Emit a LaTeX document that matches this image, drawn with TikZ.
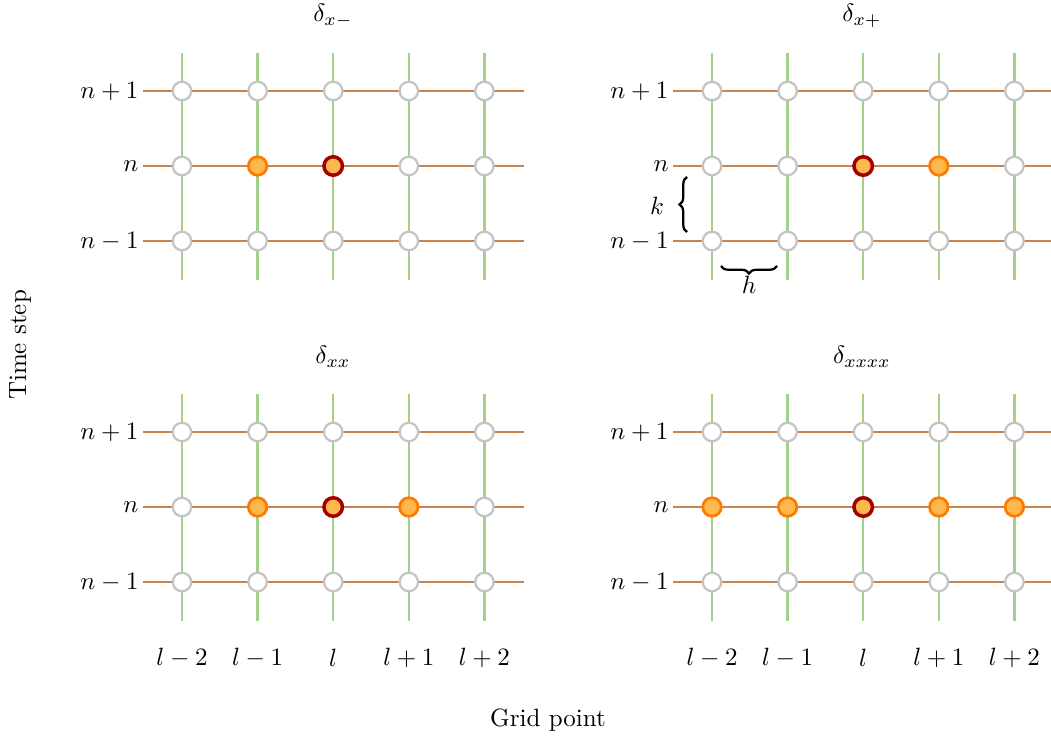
\documentclass[tikz,border=0pt]{standalone}
\usetikzlibrary{decorations.pathreplacing}
\definecolor{hline}{HTML}{C8834F}
\definecolor{vline}{HTML}{A3D18B}
\definecolor{ptgray}{HTML}{C4C4C4}
\definecolor{ofill}{HTML}{FFB84D}
\definecolor{odraw}{HTML}{FF7A00}
\definecolor{cdraw}{HTML}{A50000}
\begin{document}
\begin{tikzpicture}[x=0.4pt,y=-0.4pt,
  hl/.style={draw=hline,line width=1pt},
  vl/.style={draw=vline,line width=1pt},
  pt/.style={circle,draw=ptgray,fill=white,line width=0.9pt,minimum size=7.4pt,inner sep=0pt},
  opt/.style={pt,draw=odraw,fill=ofill,line width=1.1pt},
  cpt/.style={pt,draw=cdraw,fill=ofill,line width=1.4pt},
  lab/.style={inner sep=0pt},
  brc/.style={decorate,decoration={brace,amplitude=3pt},line width=0.9pt}]
\useasboundingbox (0,0) rectangle (1051,738);
% grid lines for each panel
\foreach \p/\ox/\oy in {a/0/0,b/530/0,c/0/341,d/530/341}{
  \foreach \r/\y in {0/91,1/166,2/241}{
    \coordinate (\p L\r) at (\ox+143,\oy+\y);
    \coordinate (\p R\r) at (\ox+524,\oy+\y);
    \draw[hl] (\p L\r) -- (\p R\r);
  }
  \foreach \c in {0,...,4}{
    \coordinate (\p T\c) at (\ox+182+75.6*\c,\oy+53);
    \coordinate (\p B\c) at (\ox+182+75.6*\c,\oy+280);
    \draw[vl] (\p T\c) -- (\p B\c);
  }
  \foreach \r/\y in {0/91,2/241}{
    \foreach \c in {0,...,4}{
      \node[pt] (\p\r\c) at (\ox+182+75.6*\c,\oy+\y) {};
    }
  }
  \node[lab,anchor=east] (\p n0) at (\ox+139,\oy+91) {$n+1$};
  \node[lab,anchor=east] (\p n1) at (\ox+139,\oy+166) {$n$};
  \node[lab,anchor=east] (\p n2) at (\ox+139,\oy+241) {$n-1$};
}
% middle rows
\foreach \c in {0,3,4} \node[pt] (a1\c) at (182+75.6*\c,166) {};
\node[opt] (a11) at (257.6,166) {};
\node[cpt] (a12) at (333.2,166) {};
\foreach \c in {0,1,4} \node[pt] (b1\c) at (712+75.6*\c,166) {};
\node[cpt] (b12) at (863.2,166) {};
\node[opt] (b13) at (938.8,166) {};
\foreach \c in {0,4} \node[pt] (c1\c) at (182+75.6*\c,507) {};
\node[opt] (c11) at (257.6,507) {};
\node[cpt] (c12) at (333.2,507) {};
\node[opt] (c13) at (408.8,507) {};
\node[opt] (d10) at (712,507) {};
\node[opt] (d11) at (787.6,507) {};
\node[cpt] (d12) at (863.2,507) {};
\node[opt] (d13) at (938.8,507) {};
\node[opt] (d14) at (1014.4,507) {};
% titles
\node (ta) at (333,16) {$\delta_{x-}$};
\node (tb) at (862,16) {$\delta_{x+}$};
\node (tc) at (333,357) {$\delta_{xx}$};
\node (td) at (862,357) {$\delta_{xxxx}$};
% column labels
\foreach \p/\ox in {c/0,d/530}{
  \node (\p l0) at (\ox+182,658) {$l-2$};
  \node (\p l1) at (\ox+257.6,658) {$l-1$};
  \node (\p l2) at (\ox+333.2,658) {$l$};
  \node (\p l3) at (\ox+408.8,658) {$l+1$};
  \node (\p l4) at (\ox+484.4,658) {$l+2$};
}
% braces
\coordinate (kb) at (687,232);
\coordinate (kt) at (687,177);
\draw[brc] (kb) -- (kt);
\node (k) at (657,206) {$k$};
\coordinate (hR) at (777,266);
\coordinate (hL) at (721,266);
\draw[brc] (hR) -- (hL);
\node (h) at (749,285) {$h$};
% axis labels
\node[rotate=90] (ts) at (20,345) {Time step};
\node (gp) at (548,720) {Grid point};
\end{tikzpicture}
\end{document}
